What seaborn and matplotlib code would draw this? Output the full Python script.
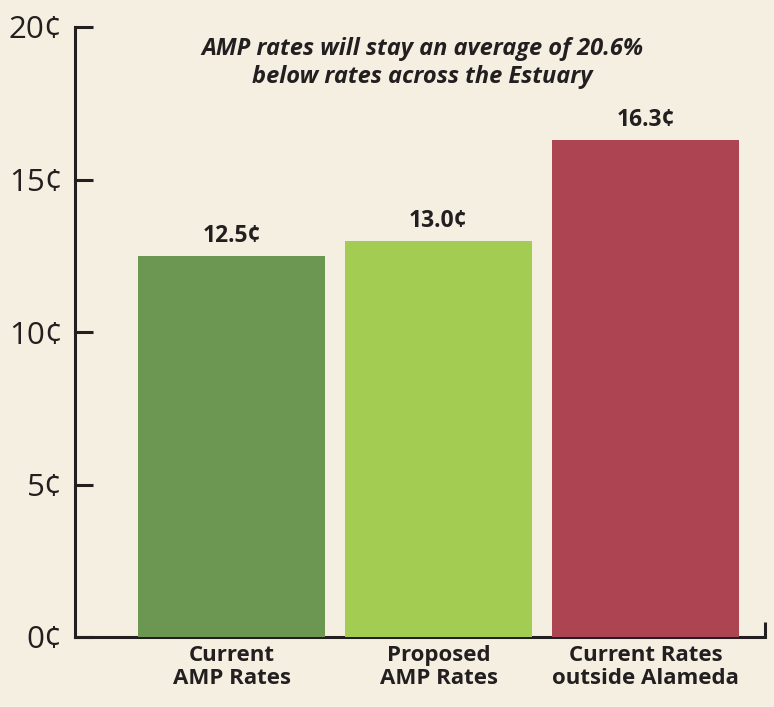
import matplotlib
matplotlib.use("Agg")
import matplotlib.pyplot as plt
import seaborn as sns
import pandas as pd

categories = ["Current\nAMP Rates", "Proposed\nAMP Rates", "Current Rates\noutside Alameda"]
values = [12.5, 13.0, 16.3]
value_labels = ["12.5¢", "13.0¢", "16.3¢"]
colors = ["#6b9753", "#a3cc52", "#ad4452"]
yticks = [0, 5, 10, 15, 20]
ytick_labels = ["0¢", "5¢", "10¢", "15¢", "20¢"]
title = "AMP rates will stay an average of 20.6%\nbelow rates across the Estuary"

bg = "#f4efe0"
ink = "#231f20"

sns.set_theme(style="white")
plt.rcParams["font.family"] = ["Open Sans", "DejaVu Sans"]

fig = plt.figure(figsize=(7.74, 7.07), dpi=100, facecolor=bg)
ax = fig.add_axes([75/774, 1-637/707, (765-75)/774, (637-27)/707])
ax.set_facecolor(bg)

df = pd.DataFrame({"cat": categories, "val": values})
sns.barplot(data=df, x="cat", y="val", hue="cat", palette=colors, legend=False,
            width=0.903, saturation=1, linewidth=0, edgecolor="none", ax=ax, zorder=3)

ax.set_ylim(0, 20)
ax.set_xlim(-0.756, 2.577)
ax.set_yticks(yticks)
ax.set_yticklabels(ytick_labels, fontsize=22.5, color=ink)
ax.tick_params(axis="y", direction="in", length=13, width=2.2, color=ink, pad=9, left=True)
ax.tick_params(axis="x", length=0, pad=6, labelsize=16, labelcolor=ink)
for lbl in ax.get_xticklabels():
    lbl.set_fontweight("bold")
    lbl.set_linespacing(1.12)
ax.set_xlabel("")
ax.set_ylabel("")

ax.set_xticks([2.577], minor=True)
ax.tick_params(axis="x", which="minor", direction="in", length=11, width=2.2, color=ink, bottom=True)

for s in ["top", "right"]:
    ax.spines[s].set_visible(False)
for s in ["left", "bottom"]:
    ax.spines[s].set_color(ink)
    ax.spines[s].set_linewidth(2.2)
ax.spines["bottom"].set_zorder(1)

for i, (v, t) in enumerate(zip(values, value_labels)):
    ax.text(i, v + 0.25, t, ha="center", va="bottom", fontsize=16.5,
            fontweight="bold", color=ink)

ax.text(0.5036, 0.983, title, transform=ax.transAxes, ha="center", va="top",
        fontsize=17, fontweight="bold", fontstyle="italic", color=ink,
        linespacing=1.2)

fig.savefig("out.png", dpi=100, facecolor=bg)
